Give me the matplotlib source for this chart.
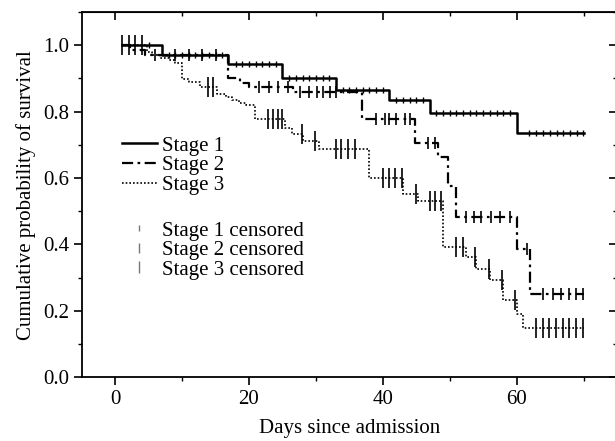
import numpy as np
import matplotlib
matplotlib.use("Agg")
import matplotlib.pyplot as plt
from matplotlib.lines import Line2D
from matplotlib.ticker import MultipleLocator

plt.rcParams['font.family'] = ['Liberation Serif', 'DejaVu Serif']

# ---- data ----
start_day = 1.0
end_day = 70.0

s1_times = [7, 16.9, 24.9, 33, 40.9, 47, 60]
s1_surv = [0.970, 0.942, 0.902, 0.864, 0.835, 0.797, 0.735]
s1_cens = [5, 8, 9, 10, 11, 12, 13, 14, 15, 16, 18, 19, 20, 21, 22, 23, 24,
           26, 27, 28, 29, 30, 31, 32, 34, 35, 36, 37, 38, 39, 40,
           42, 43, 44, 45, 46, 48, 49, 50, 51, 52, 53, 54, 55, 56, 57, 58, 59,
           61.9, 62.9, 64, 65, 66, 67, 68, 69, 69.9]

s2_times = [2.2, 4.5, 16.9, 18.7, 20.0, 26.6, 36.9, 44.8, 48.2, 49.7, 51.0, 60.0, 62.0]
s2_surv = [0.985, 0.970, 0.902, 0.885, 0.875, 0.859, 0.777, 0.707, 0.662, 0.575, 0.482, 0.387, 0.252]
s2_cens = [6, 9, 11, 13, 15, 21.5, 23, 24.3, 25.8, 27.6, 29, 30.1, 31.1, 32.1, 33,
           39, 40.3, 41, 42, 43.3, 44, 46.8, 47.8, 52.5, 53.7, 54.7, 56.2, 57.5, 59,
           61.5, 64, 65.4, 66.7, 67.9, 68.9, 69.9]

s3_times = [4.7, 5.5, 6.7, 8, 9, 10, 11, 12.7, 15.2, 16.5, 17.5, 18.5, 19.5, 20.9,
            25.4, 26.5, 28, 30.5, 37.9, 43, 45.3, 49, 52.5, 54, 56, 58, 60, 61]
s3_surv = [0.980, 0.972, 0.962, 0.955, 0.947, 0.897, 0.888, 0.874, 0.852, 0.843, 0.835,
           0.827, 0.820, 0.777, 0.752, 0.732, 0.712, 0.687, 0.600, 0.552, 0.530, 0.392,
           0.362, 0.327, 0.292, 0.232, 0.192, 0.147]
s3_cens = [1, 2, 3, 4, 13.9, 14.6, 22.8, 23.6, 24.3, 24.9, 27.9, 29.9, 33, 33.8, 34.8,
           35.8, 40, 41, 41.8, 42.8, 45, 47, 47.8, 48.7, 51, 52, 53.8, 55.8, 57.8, 59.8,
           62.9, 63.9, 64.9, 65.9, 66.9, 67.9, 68.9, 69.9]

labels = ['Stage 1', 'Stage 2', 'Stage 3']
cens_labels = ['Stage 1 censored', 'Stage 2 censored', 'Stage 3 censored']
x_label = 'Days since admission'
y_label = 'Cumulative probability of survival'


def step_xy(times, surv):
    x = [start_day] + list(times) + [end_day]
    y = [1.0] + list(surv) + [surv[-1]]
    return np.array(x), np.array(y)


def surv_at(times, surv, t):
    idx = np.searchsorted(np.array(times), np.array(t), side='right')
    vals = np.concatenate([[1.0], np.array(surv)])
    return vals[idx]


fig = plt.figure(figsize=(6.15, 4.41), dpi=100)
ax = fig.add_axes([81.7 / 615, 63.7 / 441, (617 - 81.7) / 615, (377.3 - 12) / 441])

styles = [dict(color='black', lw=1.8, ls='-'),
          dict(color='black', lw=1.6, ls=(0, (5, 2, 1.2, 2))),
          dict(color='black', lw=1.2, ls=(0, (1, 1.2)))]
msizes = [5, 8, 14]
mw = [1.0, 1.2, 1.2]

data = [(s1_times, s1_surv, s1_cens), (s2_times, s2_surv, s2_cens), (s3_times, s3_surv, s3_cens)]
line_handles = []
cens_handles = []
for i, (t, s, c) in enumerate(data):
    x, y = step_xy(t, s)
    ln, = ax.step(x, y, where='post', **styles[i])
    line_handles.append(ln)
    cy = surv_at(t, s, c)
    ax.plot(c, cy, ls='none', marker='|', ms=msizes[i], mew=mw[i], color='black')
    cens_handles.append(Line2D([], [], ls='none', marker='|', ms=[5, 7, 8][i], mew=1.0, color='#777777'))

ax.set_xlim(-5, 75)
ax.set_ylim(0, 1.1)
ax.xaxis.set_major_locator(MultipleLocator(20))
ax.xaxis.set_minor_locator(MultipleLocator(10))
ax.yaxis.set_major_locator(MultipleLocator(0.2))
ax.yaxis.set_minor_locator(MultipleLocator(0.1))
ax.yaxis.set_major_formatter(matplotlib.ticker.FormatStrFormatter('%.1f'))
ax.tick_params(which='major', direction='out', length=6, width=1.2, labelsize=15, pad=3)
ax.tick_params(which='minor', direction='out', length=3, width=1.0)
for sp in ax.spines.values():
    sp.set_linewidth(1.3)

top = ax.secondary_xaxis('top')
top.xaxis.set_major_locator(MultipleLocator(20))
top.xaxis.set_minor_locator(MultipleLocator(10))
top.tick_params(which='major', direction='in', length=6, width=1.2, labeltop=False)
top.tick_params(which='minor', direction='in', length=3, width=1.0)
right = ax.secondary_yaxis('right')
right.yaxis.set_major_locator(MultipleLocator(0.2))
right.yaxis.set_minor_locator(MultipleLocator(0.1))
right.tick_params(which='major', direction='in', length=6, width=1.2, labelright=False)
right.tick_params(which='minor', direction='in', length=3, width=1.0)

ax.set_xlabel(x_label, fontsize=15, labelpad=7)
ax.set_ylabel(y_label, fontsize=15, labelpad=5)

leg1 = ax.legend(line_handles, labels, loc='upper left', bbox_to_anchor=(0.0747, 0.66),
                 frameon=False, fontsize=15, handlelength=1.7, handletextpad=0.25,
                 labelspacing=0.0, borderpad=0, borderaxespad=0)
ax.add_artist(leg1)
ax.legend(cens_handles, cens_labels, loc='upper left', bbox_to_anchor=(0.0747, 0.428),
          frameon=False, fontsize=15, handlelength=1.7, handletextpad=0.25,
          labelspacing=0.0, borderpad=0, borderaxespad=0)

fig.savefig('out.png', dpi=100)
